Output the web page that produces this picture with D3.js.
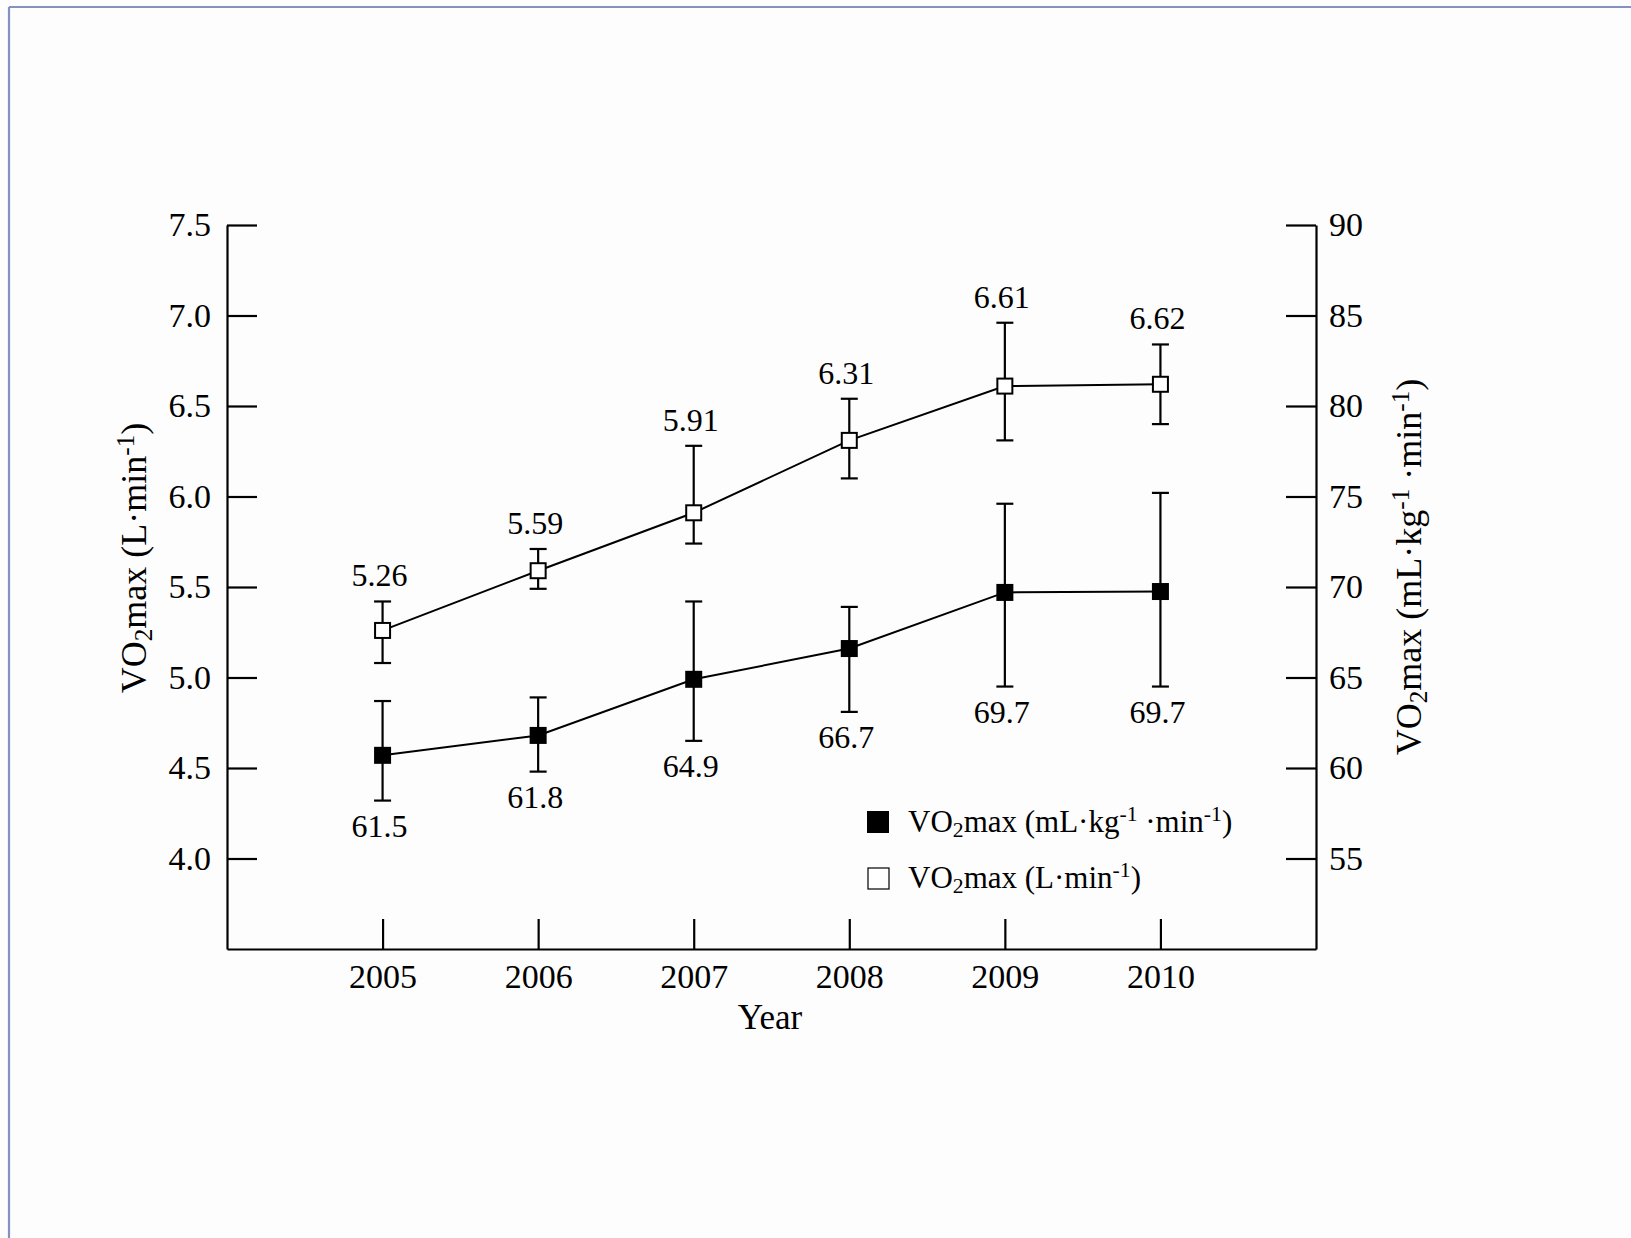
<!DOCTYPE html>
<html>
<head>
<meta charset="utf-8">
<script src="https://cdn.jsdelivr.net/npm/d3@7/dist/d3.min.js"></script>
<style>
  body { margin: 0; background: #fdfdfd; }
  svg text { font-family: "Liberation Serif", "Times New Roman", serif; fill: #000; }
</style>
</head>
<body>
<script>
// data
var years = [2005, 2006, 2007, 2008, 2009, 2010];

// VO2max (L/min), left axis - open squares
var absMean  = [5.26, 5.59, 5.91, 6.31, 6.61, 6.62];
var absUpper = [5.42, 5.71, 6.28, 6.54, 6.96, 6.84];
var absLower = [5.08, 5.49, 5.74, 6.10, 6.31, 6.40];
var absLabels = ["5.26", "5.59", "5.91", "6.31", "6.61", "6.62"];

// VO2max (mL/kg/min), right axis - filled squares
var relMean  = [60.7, 61.8, 64.9, 66.6, 69.7, 69.75];
var relUpper = [63.7, 63.9, 69.2, 68.9, 74.6, 75.2];
var relLower = [58.2, 59.8, 61.5, 63.1, 64.5, 64.5];
var relLabels = ["61.5", "61.8", "64.9", "66.7", "69.7", "69.7"];

var leftTicks = [4.0, 4.5, 5.0, 5.5, 6.0, 6.5, 7.0, 7.5];
var rightTicks = [55, 60, 65, 70, 75, 80, 85, 90];

var W = 1631, H = 1238;
var plotL = 227, plotR = 1316, plotT = 225, plotB = 949;
var serif = '"Liberation Serif", "Times New Roman", serif';

var svg = d3.select("body").append("svg")
    .attr("width", W)
    .attr("height", H);

// frame of the slide
svg.append("line").attr("x1", 9).attr("x2", W).attr("y1", 7).attr("y2", 7)
    .attr("stroke", "#8591c2").attr("stroke-width", 2.2);
svg.append("line").attr("x1", 9).attr("x2", 9).attr("y1", 7).attr("y2", H)
    .attr("stroke", "#8591c2").attr("stroke-width", 2.2);

var x = d3.scaleLinear().domain([2004, 2011]).range([plotL, plotR]);
var yL = d3.scaleLinear().domain([3.5, 7.5]).range([plotB, plotT]);
var yR = d3.scaleLinear().domain([50, 90]).range([plotB, plotT]);

function styleAxis(g, size) {
  g.attr("font-family", null).attr("font-size", null);
  g.selectAll("text").style("font-family", serif).style("font-size", size + "px").attr("fill", "#000");
  g.select(".domain").attr("stroke", "#000").attr("stroke-width", 2.2);
  g.selectAll(".tick line").attr("stroke", "#000").attr("stroke-width", 2.2);
}

svg.append("g")
    .attr("transform", "translate(0," + plotB + ")")
    .call(d3.axisBottom(x).tickValues(years).tickFormat(d3.format("d"))
      .tickSizeInner(-30).tickSizeOuter(0).tickPadding(15))
    .call(styleAxis, 34);

svg.append("g")
    .attr("transform", "translate(" + plotL + ",0)")
    .call(d3.axisLeft(yL).tickValues(leftTicks).tickFormat(d3.format(".1f"))
      .tickSizeInner(-30).tickSizeOuter(0).tickPadding(16))
    .call(styleAxis, 34);

svg.append("g")
    .attr("transform", "translate(" + plotR + ",0)")
    .call(d3.axisRight(yR).tickValues(rightTicks).tickFormat(d3.format("d"))
      .tickSizeInner(-30).tickSizeOuter(0).tickPadding(13))
    .call(styleAxis, 34);

// axis titles
function vo2(t, unitParts, size) {
  t.style("font-size", size + "px").style("font-family", serif);
  t.append("tspan").text("VO");
  t.append("tspan").text("2").attr("baseline-shift", "-22%").style("font-size", (size * 0.7) + "px");
  unitParts.forEach(function(p) {
    if (p.sup) {
      t.append("tspan").text(p.sup).attr("baseline-shift", "48%").style("font-size", (size * 0.7) + "px");
    } else {
      t.append("tspan").text(p.txt);
    }
  });
}

var lt = svg.append("text")
    .attr("text-anchor", "middle")
    .attr("transform", "translate(146,558) rotate(-90)");
vo2(lt, [{txt: "max (L·min"}, {sup: "-1"}, {txt: ")"}], 36);

var rt = svg.append("text")
    .attr("text-anchor", "middle")
    .attr("transform", "translate(1421,567) rotate(-90)");
vo2(rt, [{txt: "max (mL·kg"}, {sup: "-1"}, {txt: " ·min"}, {sup: "-1"}, {txt: ")"}], 36);

svg.append("text")
    .attr("x", 770).attr("y", 1029)
    .attr("text-anchor", "middle")
    .style("font-size", "35px")
    .text("Year");

// lines
var lineAbs = d3.line().x(function(d, i) { return x(years[i]); }).y(function(d) { return yL(d); });
var lineRel = d3.line().x(function(d, i) { return x(years[i]); }).y(function(d) { return yR(d); });

svg.append("path").attr("d", lineAbs(absMean))
    .attr("fill", "none").attr("stroke", "#000").attr("stroke-width", 2);
svg.append("path").attr("d", lineRel(relMean))
    .attr("fill", "none").attr("stroke", "#000").attr("stroke-width", 2);

// error bars
function errorBars(lo, hi, scale) {
  var g = svg.append("g").attr("stroke", "#000").attr("stroke-width", 2.2);
  years.forEach(function(yr, i) {
    var cx = x(yr);
    g.append("line").attr("x1", cx).attr("x2", cx).attr("y1", scale(lo[i])).attr("y2", scale(hi[i]));
    g.append("line").attr("x1", cx - 8.5).attr("x2", cx + 8.5).attr("y1", scale(hi[i])).attr("y2", scale(hi[i]));
    g.append("line").attr("x1", cx - 8.5).attr("x2", cx + 8.5).attr("y1", scale(lo[i])).attr("y2", scale(lo[i]));
  });
}
errorBars(absLower, absUpper, yL);
errorBars(relLower, relUpper, yR);

// markers
svg.selectAll("rect.abs").data(absMean).enter().append("rect")
    .attr("class", "abs")
    .attr("x", function(d, i) { return x(years[i]) - 7.5; })
    .attr("y", function(d) { return yL(d) - 7.5; })
    .attr("width", 15).attr("height", 15)
    .attr("fill", "#fff").attr("stroke", "#000").attr("stroke-width", 2);

svg.selectAll("rect.rel").data(relMean).enter().append("rect")
    .attr("class", "rel")
    .attr("x", function(d, i) { return x(years[i]) - 8.5; })
    .attr("y", function(d) { return yR(d) - 8.5; })
    .attr("width", 17).attr("height", 17)
    .attr("fill", "#000");

// value labels
svg.selectAll("text.absl").data(absLabels).enter().append("text")
    .attr("class", "absl")
    .attr("x", function(d, i) { return x(years[i]) - 3; })
    .attr("y", function(d, i) { return yL(absUpper[i]) - 15; })
    .attr("text-anchor", "middle")
    .style("font-size", "32px")
    .text(function(d) { return d; });

svg.selectAll("text.rell").data(relLabels).enter().append("text")
    .attr("class", "rell")
    .attr("x", function(d, i) { return x(years[i]) - 3; })
    .attr("y", function(d, i) { return yR(relLower[i]) + 36; })
    .attr("text-anchor", "middle")
    .style("font-size", "32px")
    .text(function(d) { return d; });

// legend
var leg = svg.append("g");
leg.append("rect").attr("x", 867).attr("y", 811).attr("width", 22).attr("height", 22).attr("fill", "#000");
leg.append("rect").attr("x", 868).attr("y", 868).attr("width", 21).attr("height", 21)
    .attr("fill", "#fff").attr("stroke", "#000").attr("stroke-width", 1.2);
var l1 = leg.append("text").attr("x", 908).attr("y", 832);
vo2(l1, [{txt: "max (mL·kg"}, {sup: "-1"}, {txt: " ·min"}, {sup: "-1"}, {txt: ")"}], 31);
var l2 = leg.append("text").attr("x", 908).attr("y", 888);
vo2(l2, [{txt: "max (L·min"}, {sup: "-1"}, {txt: ")"}], 31);
</script>
</body>
</html>
